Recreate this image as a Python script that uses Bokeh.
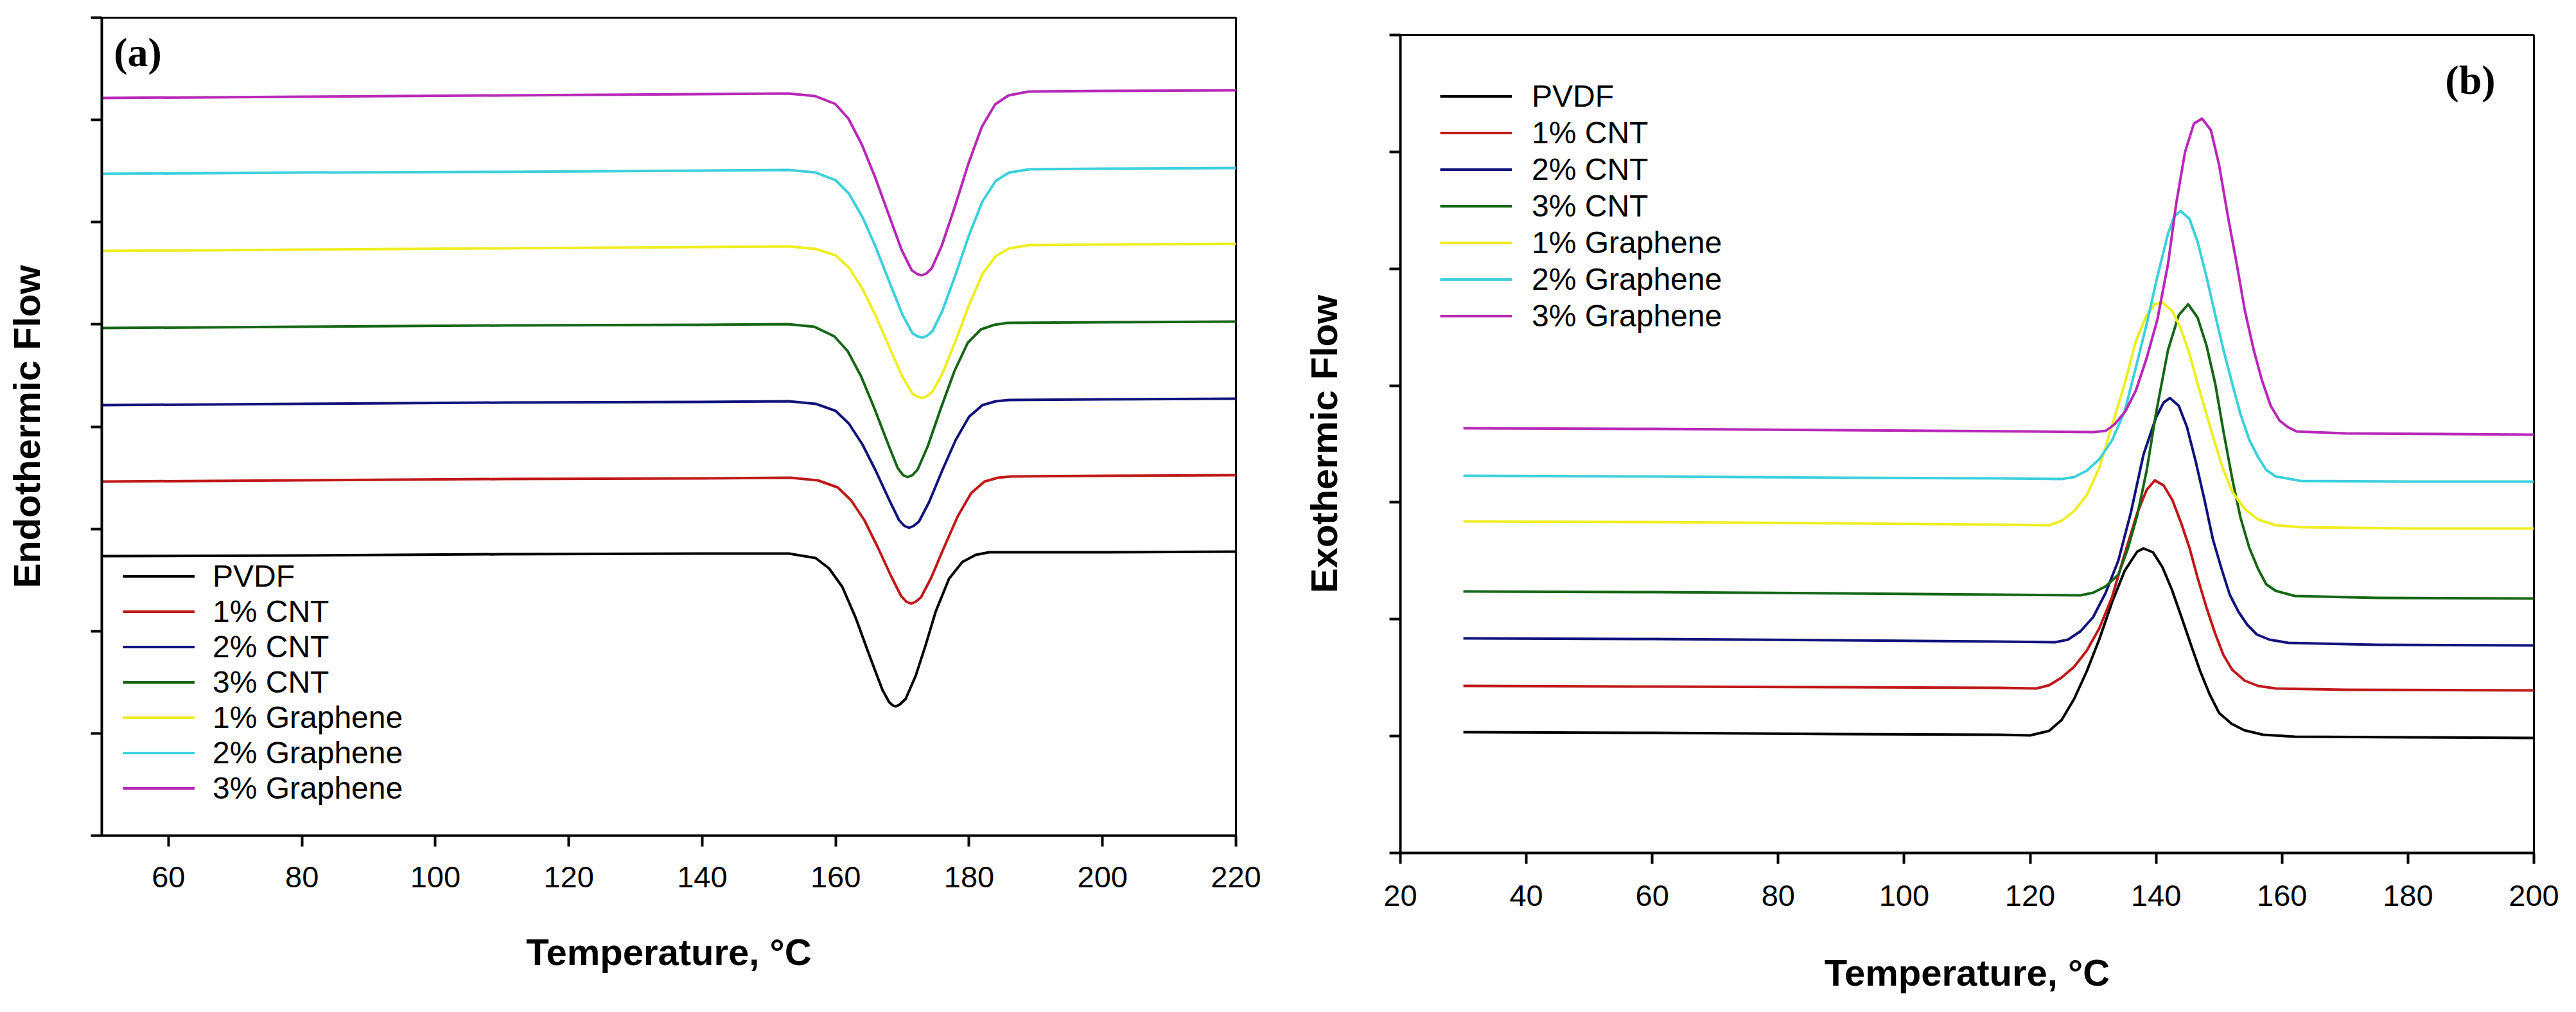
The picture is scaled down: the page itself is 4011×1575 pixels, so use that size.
from bokeh.plotting import figure
from bokeh.models import Range1d, FixedTicker, Legend, LegendItem, Label, Spacer
from bokeh.layouts import row, column
from bokeh.embed import file_html
from bokeh.resources import INLINE

series_names = ["PVDF", "1% CNT", "2% CNT", "3% CNT", "1% Graphene", "2% Graphene", "3% Graphene"]
series_colors = ["#000000", "#c01818", "#12127c", "#166616", "#eeee22", "#3cd0dc", "#b828b8"]

# ---------------- panel (a): heating (melting endotherms) ----------------
a_xticks = [60, 80, 100, 120, 140, 160, 180, 200, 220]

a_pvdf_T = [50, 80, 110, 140, 153, 157, 159, 161, 163, 165, 167, 168, 168.5, 169, 169.6, 170.5, 172, 173.5, 175, 177, 179, 181, 183, 200, 220]
a_pvdf_y = [4.35, 4.36, 4.38, 4.39, 4.39, 4.32, 4.16, 3.87, 3.39, 2.82, 2.27, 2.08, 2.03, 2.01, 2.04, 2.13, 2.49, 2.97, 3.49, 4.00, 4.26, 4.37, 4.41, 4.41, 4.42]

a_cnt1_T = [50, 80, 110, 140, 153.3, 157.3, 160.3, 162.3, 164.3, 166.3, 168.3, 169.8, 170.6, 171.3, 172.0, 172.8, 174.3, 176.3, 178.3, 180.3, 182.3, 184.3, 186.3, 200, 220]
a_cnt1_y = [5.51, 5.53, 5.55, 5.56, 5.57, 5.53, 5.42, 5.22, 4.91, 4.49, 4.04, 3.73, 3.64, 3.61, 3.64, 3.71, 4.01, 4.50, 4.97, 5.33, 5.51, 5.57, 5.59, 5.60, 5.61]

a_cnt2_T = [50, 80, 110, 140, 153, 157, 160, 162, 164, 166, 168, 169.5, 170.3, 171, 171.7, 172.5, 174, 176, 178, 180, 182, 184, 186, 200, 220]
a_cnt2_y = [6.70, 6.72, 6.74, 6.75, 6.76, 6.72, 6.61, 6.41, 6.09, 5.68, 5.23, 4.91, 4.82, 4.79, 4.82, 4.89, 5.19, 5.69, 6.16, 6.52, 6.70, 6.76, 6.78, 6.79, 6.80]

a_cnt3_T = [50, 80, 110, 140, 152.8, 156.8, 159.8, 161.8, 163.8, 165.8, 167.8, 169.3, 170.1, 170.8, 171.5, 172.3, 173.8, 175.8, 177.8, 179.8, 181.8, 183.8, 185.8, 200, 220]
a_cnt3_y = [7.90, 7.92, 7.94, 7.95, 7.96, 7.92, 7.77, 7.54, 7.15, 6.65, 6.11, 5.72, 5.61, 5.58, 5.61, 5.70, 6.06, 6.66, 7.23, 7.67, 7.88, 7.95, 7.98, 7.99, 8.00]

a_gr1_T = [50, 80, 110, 140, 153, 157, 160, 162, 164, 166, 168, 170, 171.5, 172.3, 173, 173.7, 174.5, 176, 178, 180, 182, 184, 186, 189, 200, 220]
a_gr1_y = [9.10, 9.12, 9.14, 9.16, 9.17, 9.13, 9.03, 8.84, 8.51, 8.09, 7.61, 7.14, 6.88, 6.83, 6.81, 6.84, 6.91, 7.19, 7.71, 8.26, 8.74, 9.02, 9.14, 9.19, 9.20, 9.21]

a_gr2_T = [50, 80, 110, 140, 153, 157, 160, 162, 164, 166, 168, 170, 171.5, 172.3, 173, 173.7, 174.5, 176, 178, 180, 182, 184, 186, 189, 200, 220]
a_gr2_y = [10.30, 10.32, 10.33, 10.35, 10.36, 10.32, 10.20, 9.99, 9.63, 9.16, 8.63, 8.11, 7.82, 7.77, 7.75, 7.78, 7.85, 8.17, 8.74, 9.35, 9.87, 10.19, 10.32, 10.37, 10.38, 10.39]

a_gr3_T = [50, 80, 110, 140, 152.9, 156.9, 159.9, 161.9, 163.9, 165.9, 167.9, 169.9, 171.4, 172.2, 172.9, 173.6, 174.4, 175.9, 177.9, 179.9, 181.9, 183.9, 185.9, 188.9, 200, 220]
a_gr3_y = [11.48, 11.50, 11.52, 11.54, 11.55, 11.51, 11.39, 11.16, 10.76, 10.25, 9.68, 9.11, 8.80, 8.74, 8.72, 8.75, 8.83, 9.18, 9.80, 10.46, 11.03, 11.38, 11.52, 11.58, 11.59, 11.60]

# ---------------- panel (b): cooling (crystallisation exotherms) ----------------
b_xticks = [20, 40, 60, 80, 100, 120, 140, 160, 180, 200]

b_pvdf_T = [30, 60, 90, 115, 120, 123, 125, 127, 129, 131, 133, 135, 137, 138, 139.5, 141, 142.5, 144, 145.5, 147, 148.5, 150, 152, 154, 157, 162, 180, 200]
b_pvdf_y = [1.88, 1.87, 1.85, 1.84, 1.83, 1.90, 2.07, 2.40, 2.83, 3.33, 3.90, 4.39, 4.69, 4.74, 4.68, 4.45, 4.10, 3.68, 3.25, 2.83, 2.47, 2.18, 2.01, 1.91, 1.84, 1.81, 1.80, 1.79]

b_cnt1_T = [30, 60, 90, 115, 121, 123, 125, 127, 129, 131, 133, 135, 137, 138.5, 139.8, 141.2, 142.6, 144, 145.3, 146.6, 148, 149.4, 150.7, 152.1, 154.1, 156.2, 159, 170, 200]
b_cnt1_y = [2.60, 2.59, 2.58, 2.57, 2.56, 2.61, 2.73, 2.90, 3.15, 3.50, 3.98, 4.65, 5.29, 5.65, 5.80, 5.72, 5.49, 5.13, 4.75, 4.28, 3.82, 3.41, 3.08, 2.85, 2.68, 2.60, 2.56, 2.54, 2.53]

b_cnt2_T = [30, 60, 90, 115, 124, 126, 128, 130, 132, 134, 136, 138, 140, 141.2, 142.2, 143.6, 144.9, 146.3, 147.7, 149, 150.4, 151.7, 153.1, 154.5, 156, 158, 161, 175, 200]
b_cnt2_y = [3.34, 3.33, 3.31, 3.29, 3.28, 3.32, 3.45, 3.67, 4.05, 4.55, 5.30, 6.20, 6.78, 7.01, 7.08, 6.96, 6.63, 6.09, 5.49, 4.89, 4.42, 4.02, 3.75, 3.55, 3.40, 3.32, 3.27, 3.24, 3.23]

b_cnt3_T = [30, 60, 90, 115, 128, 130, 132, 134, 135.5, 137, 138.5, 140, 141.9, 143.6, 145.1, 146.6, 148, 149.4, 150.7, 152.1, 153.4, 154.8, 156.2, 157.5, 159, 162, 175, 200]
b_cnt3_y = [4.07, 4.06, 4.04, 4.02, 4.01, 4.05, 4.15, 4.33, 4.73, 5.25, 5.95, 6.85, 7.83, 8.37, 8.54, 8.33, 7.90, 7.30, 6.56, 5.82, 5.22, 4.75, 4.42, 4.18, 4.08, 4.00, 3.97, 3.96]

b_gr1_T = [30, 60, 90, 115, 123, 125, 127, 129, 131, 133, 135, 136.8, 138.5, 139.8, 141, 142.6, 143.9, 145.3, 146.6, 148, 149.4, 150.7, 152.1, 154.1, 156.2, 159, 163, 180, 200]
b_gr1_y = [5.16, 5.15, 5.13, 5.11, 5.10, 5.17, 5.32, 5.57, 6.00, 6.65, 7.30, 7.97, 8.37, 8.54, 8.57, 8.43, 8.17, 7.77, 7.30, 6.83, 6.36, 5.96, 5.62, 5.35, 5.19, 5.10, 5.07, 5.05, 5.05]

b_gr2_T = [30, 60, 90, 115, 125, 127, 129, 131, 133, 135, 136.8, 138.5, 140.2, 141.9, 142.9, 143.9, 145.3, 146.6, 148, 149.4, 150.7, 152.1, 153.4, 154.8, 156.2, 157.5, 159, 163, 180, 200]
b_gr2_y = [5.87, 5.86, 5.84, 5.83, 5.82, 5.85, 5.95, 6.13, 6.42, 6.87, 7.56, 8.23, 8.97, 9.64, 9.91, 9.99, 9.87, 9.51, 8.97, 8.37, 7.83, 7.30, 6.83, 6.43, 6.16, 5.96, 5.86, 5.79, 5.78, 5.78]

b_gr3_T = [30, 60, 90, 120, 130, 132, 133.4, 135.1, 136.8, 138.5, 140.2, 141.9, 143.2, 144.6, 146, 147.3, 148.7, 150, 151.4, 152.8, 154.1, 155.5, 156.8, 158.2, 159.6, 160.9, 162.3, 170, 200]
b_gr3_y = [6.61, 6.60, 6.58, 6.56, 6.55, 6.57, 6.67, 6.87, 7.20, 7.70, 8.30, 9.17, 10.11, 10.91, 11.35, 11.43, 11.25, 10.71, 9.91, 9.17, 8.44, 7.83, 7.36, 6.96, 6.73, 6.63, 6.56, 6.53, 6.51]

a_series = [(a_pvdf_T, a_pvdf_y), (a_cnt1_T, a_cnt1_y), (a_cnt2_T, a_cnt2_y), (a_cnt3_T, a_cnt3_y),
            (a_gr1_T, a_gr1_y), (a_gr2_T, a_gr2_y), (a_gr3_T, a_gr3_y)]
b_series = [(b_pvdf_T, b_pvdf_y), (b_cnt1_T, b_cnt1_y), (b_cnt2_T, b_cnt2_y), (b_cnt3_T, b_cnt3_y),
            (b_gr1_T, b_gr1_y), (b_gr2_T, b_gr2_y), (b_gr3_T, b_gr3_y)]

SANS = "Liberation Sans"
SERIF = "Liberation Serif"


def style_axes(p, xticks, yticks, ylabel, tick_standoff, xlabel_standoff, ylabel_standoff):
    p.xgrid.visible = False
    p.ygrid.visible = False
    p.outline_line_color = "black"
    p.outline_line_width = 3
    for ax in (p.xaxis[0], p.yaxis[0]):
        ax.axis_line_width = 4
        ax.axis_line_color = "black"
        ax.major_tick_line_width = 4
        ax.major_tick_line_color = "black"
        ax.major_tick_out = 17
        ax.major_tick_in = 0
        ax.minor_tick_line_color = None
        ax.axis_label_text_font = SANS
        ax.axis_label_text_font_style = "bold"
        ax.axis_label_text_font_size = "58px"
        ax.axis_label_text_color = "black"
    p.xaxis[0].ticker = FixedTicker(ticks=xticks)
    p.xaxis[0].major_label_text_font = SANS
    p.xaxis[0].major_label_text_font_size = "47px"
    p.xaxis[0].major_label_text_color = "black"
    p.xaxis[0].major_label_standoff = tick_standoff
    p.xaxis[0].axis_label = "Temperature, °C"
    p.xaxis[0].axis_label_standoff = xlabel_standoff
    # y axis: ticks only, no numbers
    p.yaxis[0].ticker = FixedTicker(ticks=yticks)
    p.yaxis[0].major_label_text_font_size = "1px"
    p.yaxis[0].major_label_text_color = None
    p.yaxis[0].major_label_standoff = 0
    p.yaxis[0].axis_label = ylabel
    p.yaxis[0].axis_label_standoff = ylabel_standoff


def make_legend(items, loc, glyph_w, pitch, standoff):
    return Legend(items=items, location=loc, glyph_width=glyph_w, glyph_height=pitch, label_height=pitch,
                  label_standoff=standoff, padding=0, margin=0, spacing=0, border_line_color=None,
                  background_fill_alpha=0, label_text_font=SANS, label_text_font_size="48px",
                  label_text_color="black")


# ---------- figure (a) ----------
a_ytop = 12.73
pa = figure(width=1992, height=1559, x_range=Range1d(50, 220), y_range=Range1d(0, a_ytop),
            output_backend="svg", toolbar_location=None,
            min_border_left=158, min_border_right=68, min_border_top=27, min_border_bottom=259)
style_axes(pa, a_xticks, [a_ytop / 8 * i for i in range(9)], "Endothermic Flow", 31, 65, 68)

a_items = []
for (tx, ty), name, col in zip(a_series, series_names, series_colors):
    r = pa.line(tx, ty, line_color=col, line_width=4, line_join="round")
    a_items.append(LegendItem(label=name, renderers=[r]))
pa.add_layout(make_legend(a_items, (33, 46), 112, 55, 28))
pa.add_layout(Label(x=55.4, y=12.19, text="(a)", text_font=SERIF, text_font_style="bold",
                    text_font_size="64px", text_align="center", text_baseline="middle", text_color="black"))

# ---------- figure (b) ----------
b_ytop = 12.73
pb = figure(width=1993, height=1532, x_range=Range1d(20, 200), y_range=Range1d(0, b_ytop),
            output_backend="svg", toolbar_location=None,
            min_border_left=188, min_border_right=40, min_border_top=27, min_border_bottom=232)
style_axes(pb, b_xticks, [b_ytop / 7 * i for i in range(8)], "Exothermic Flow", 33, 68, 70)

b_items = []
for (tx, ty), name, col in zip(b_series, series_names, series_colors):
    r = pb.line(tx, ty, line_color=col, line_width=4, line_join="round")
    b_items.append(LegendItem(label=name, renderers=[r]))
pb.add_layout(make_legend(b_items, (62, 807), 112, 57, 31))
pb.add_layout(Label(x=189.9, y=12.03, text="(b)", text_font=SERIF, text_font_style="bold",
                    text_font_size="64px", text_align="center", text_baseline="middle", text_color="black"))

layout = row(pa, column(Spacer(width=1993, height=27), pb))
open("out.html", "w").write(file_html(layout, INLINE))
